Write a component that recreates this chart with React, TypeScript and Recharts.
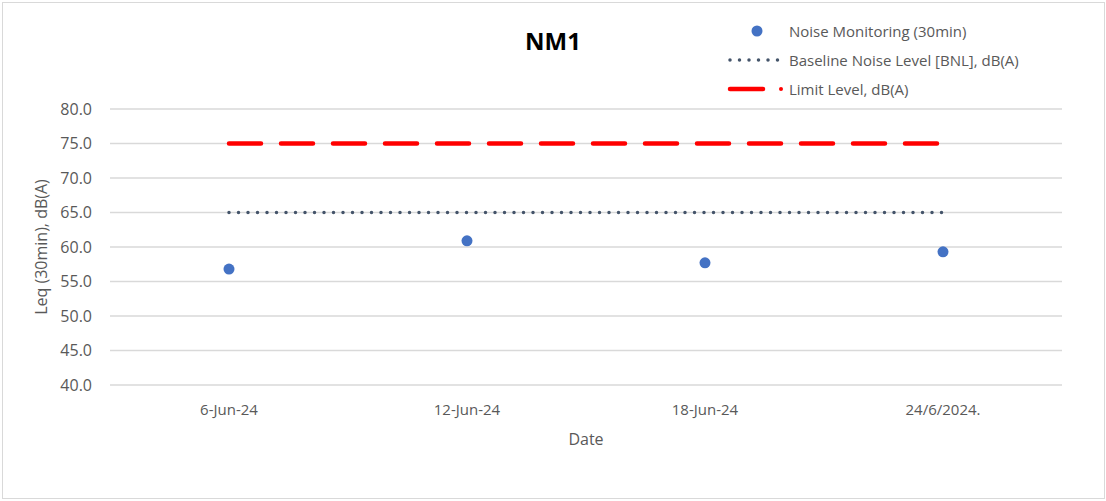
import React from 'react';
import { ComposedChart, Line, XAxis, YAxis, CartesianGrid } from 'recharts';

const categories = ['6-Jun-24', '12-Jun-24', '18-Jun-24', '24/6/2024.'];
const noiseValues = [56.8, 60.9, 57.7, 59.3];
const baselineValues = [65, 65, 65, 65];
const limitValues = [75, 75, 75, 75];
const yTicks = [40, 45, 50, 55, 60, 65, 70, 75, 80];
const seriesNames = ['Noise Monitoring (30min)', 'Baseline Noise Level [BNL], dB(A)', 'Limit Level, dB(A)'];

const data = categories.map((c, i) => ({
  date: c,
  noise: noiseValues[i],
  baseline: baselineValues[i],
  limit: limitValues[i],
}));

const FONT = '"Open Sans", "Noto Sans", sans-serif';
const TEXT = '#595959';

const LegendBox = () => (
  <div style={{ position: 'absolute', left: 727, top: 16, fontFamily: FONT, fontSize: 15, color: TEXT }}>
    {seriesNames.map((name, i) => (
      <div key={name} style={{ display: 'flex', alignItems: 'center', height: 29 }}>
        <svg width={62} height={12}>
          {i === 0 && <circle cx={30} cy={6} r={5.5} fill="#4472C4" />}
          {i === 1 && (
            <line x1={3} y1={6} x2={52} y2={6} stroke="#44546A" strokeWidth={3.5} strokeLinecap="round" strokeDasharray="0 9.5" />
          )}
          {i === 2 && (
            <g>
              <line x1={3} y1={6} x2={36} y2={6} stroke="#FF0000" strokeWidth={4.5} strokeLinecap="round" />
              <circle cx={54} cy={6} r={2} fill="#FF0000" />
            </g>
          )}
        </svg>
        <span>{name}</span>
      </div>
    ))}
  </div>
);

export default function App() {
  return (
    <div style={{ position: 'absolute', left: 0, top: 0, width: 1106, height: 501, background: '#fff' }}>
      <div
        style={{
          position: 'absolute',
          left: 2,
          top: 2,
          width: 1103,
          height: 497,
          border: '1px solid #D9D9D9',
          boxSizing: 'border-box',
        }}
      />
      <div
        style={{
          position: 'absolute',
          left: 0,
          width: 1106,
          top: 24,
          textAlign: 'center',
          fontFamily: FONT,
          fontWeight: 700,
          fontSize: 24,
          color: '#000',
        }}
      >
        NM1
      </div>
      <LegendBox />
      <ComposedChart
        width={1106}
        height={501}
        data={data}
        margin={{ top: 109, right: 44, bottom: 86, left: 0 }}
        style={{ position: 'absolute', left: 0, top: 0 }}
      >
        <CartesianGrid vertical={false} stroke="#D9D9D9" strokeWidth={1.5} />
        <XAxis
          dataKey="date"
          height={30}
          axisLine={false}
          tickLine={false}
          interval={0}
          padding={{ left: 119, right: 119 }}
          tickMargin={13}
          tick={{ fill: TEXT, fontSize: 15, fontFamily: FONT }}
          label={{ value: 'Date', position: 'insideBottom', offset: -30, fill: TEXT, fontSize: 16, fontFamily: FONT }}
        />
        <YAxis
          width={110}
          domain={[40, 80]}
          ticks={yTicks}
          interval={0}
          axisLine={false}
          tickLine={false}
          tickMargin={12}
          tickFormatter={(v: number) => v.toFixed(1)}
          tick={{ fill: TEXT, fontSize: 16, fontFamily: FONT }}
          label={{
            value: 'Leq (30min), dB(A)',
            angle: -90,
            position: 'insideLeft',
            offset: 41,
            style: { textAnchor: 'middle' },
            fill: TEXT,
            fontSize: 16,
            fontFamily: FONT,
          }}
        />
        <Line
          dataKey="limit"
          name={seriesNames[2]}
          stroke="#FF0000"
          strokeWidth={4.5}
          strokeLinecap="round"
          strokeDasharray="32 20"
          dot={false}
          activeDot={false}
          isAnimationActive={false}
        />
        <Line
          dataKey="baseline"
          name={seriesNames[1]}
          stroke="#44546A"
          strokeWidth={3.5}
          strokeLinecap="round"
          strokeDasharray="0 9.5"
          dot={false}
          activeDot={false}
          isAnimationActive={false}
        />
        <Line
          dataKey="noise"
          name={seriesNames[0]}
          stroke="none"
          dot={{ r: 5.5, fill: '#4472C4', stroke: 'none' }}
          activeDot={false}
          isAnimationActive={false}
        />
      </ComposedChart>
    </div>
  );
}
